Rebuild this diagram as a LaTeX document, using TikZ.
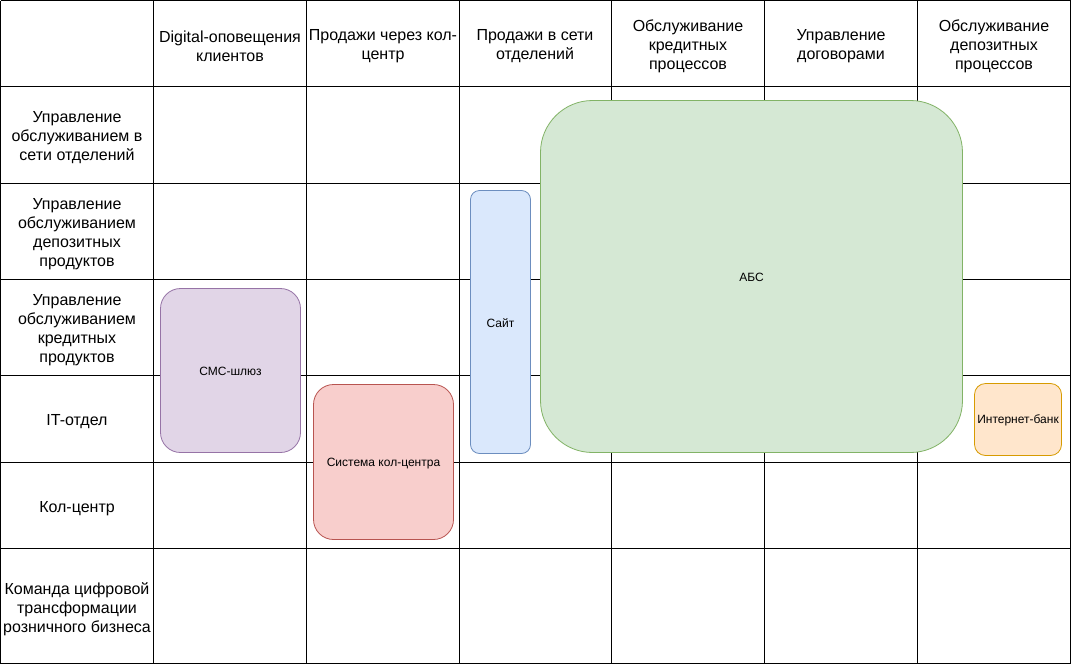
\documentclass[tikz,border=0pt]{standalone}
\usepackage{fontspec}
\setmainfont{Liberation Sans}
\begin{document}
\begin{tikzpicture}[x=1pt,y=-1pt,
  hdr/.style={align=center,font=\fontsize{16}{19}\selectfont,inner sep=0pt,text=black},
  sys/.style={draw,rounded corners=#1,line width=0.8pt,font=\fontsize{12}{14}\selectfont,align=center},
  purp/.style={fill={rgb,255:red,225;green,213;blue,231},draw={rgb,255:red,150;green,115;blue,166}},
  redb/.style={fill={rgb,255:red,248;green,206;blue,204},draw={rgb,255:red,184;green,84;blue,80}},
  blub/.style={fill={rgb,255:red,218;green,232;blue,252},draw={rgb,255:red,108;green,142;blue,191}},
  grnb/.style={fill={rgb,255:red,213;green,232;blue,212},draw={rgb,255:red,130;green,179;blue,102}},
  orgb/.style={fill={rgb,255:red,255;green,230;blue,204},draw={rgb,255:red,215;green,155;blue,0}}]
\useasboundingbox (0,0) rectangle (1071,664);
\fill[white] (0,0) rectangle (1071,664);
% grid
\foreach \x in {0.5,153.5,306.5,459.5,611.5,764.5,917.5,1070.5}
  \draw[line width=1pt] (\x,0.5) -- (\x,663.5);
\foreach \y in {0.5,86.5,183.5,279.5,375.5,462.5,548.5,663.5}
  \draw[line width=1pt] (0.5,\y) -- (1070.5,\y);
% headers
\node[hdr] (h1) at (230,46) {Digital-оповещения\\клиентов};
\node[hdr] (h2) at (383,46) {Продажи через кол-\\центр};
\node[hdr] (h3) at (535,46) {Продажи в сети\\отделений};
\node[hdr] (h4) at (688,46) {Обслуживание\\кредитных\\процессов};
\node[hdr] (h5) at (841,46) {Управление\\договорами};
\node[hdr] (h6) at (994,46) {Обслуживание\\депозитных\\процессов};
% rows
\node[hdr] (r1) at (77,138) {Управление\\обслуживанием в\\сети отделений};
\node[hdr] (r2) at (77,234) {Управление\\обслуживанием\\депозитных\\продуктов};
\node[hdr] (r3) at (77,330) {Управление\\обслуживанием\\кредитных\\продуктов};
\node[hdr] (r4) at (77,422) {IT-отдел};
\node[hdr] (r5) at (77,509) {Кол-центр};
\node[hdr] (r6) at (77,609.5) {Команда цифровой\\трансформации\\розничного бизнеса};
% systems
\draw[sys=20,purp] (160.5,288.5) rectangle (300.5,452.5);
\node[font=\fontsize{12}{14}\selectfont] (sms) at (230.5,371.5) {СМС-шлюз};
\draw[sys=20,redb] (313.5,384.5) rectangle (453.5,539.5);
\node[font=\fontsize{12}{14}\selectfont] (cc) at (383.5,463.5) {Система кол-центра};
\draw[sys=9,blub] (470.5,190.5) rectangle (530.5,453.5);
\node[font=\fontsize{12}{14}\selectfont] (site) at (500.5,323) {Сайт};
\draw[sys=52,grnb] (540.5,100.5) rectangle (962.5,452.5);
\node[font=\fontsize{12}{14}\selectfont] (abs) at (751.5,277.5) {АБС};
\draw[sys=11,orgb] (974.5,383.5) rectangle (1061.5,455.5);
\node[font=\fontsize{12}{14}\selectfont] (ib) at (1018,420.5) {Интернет-банк};
\end{tikzpicture}
\end{document}
